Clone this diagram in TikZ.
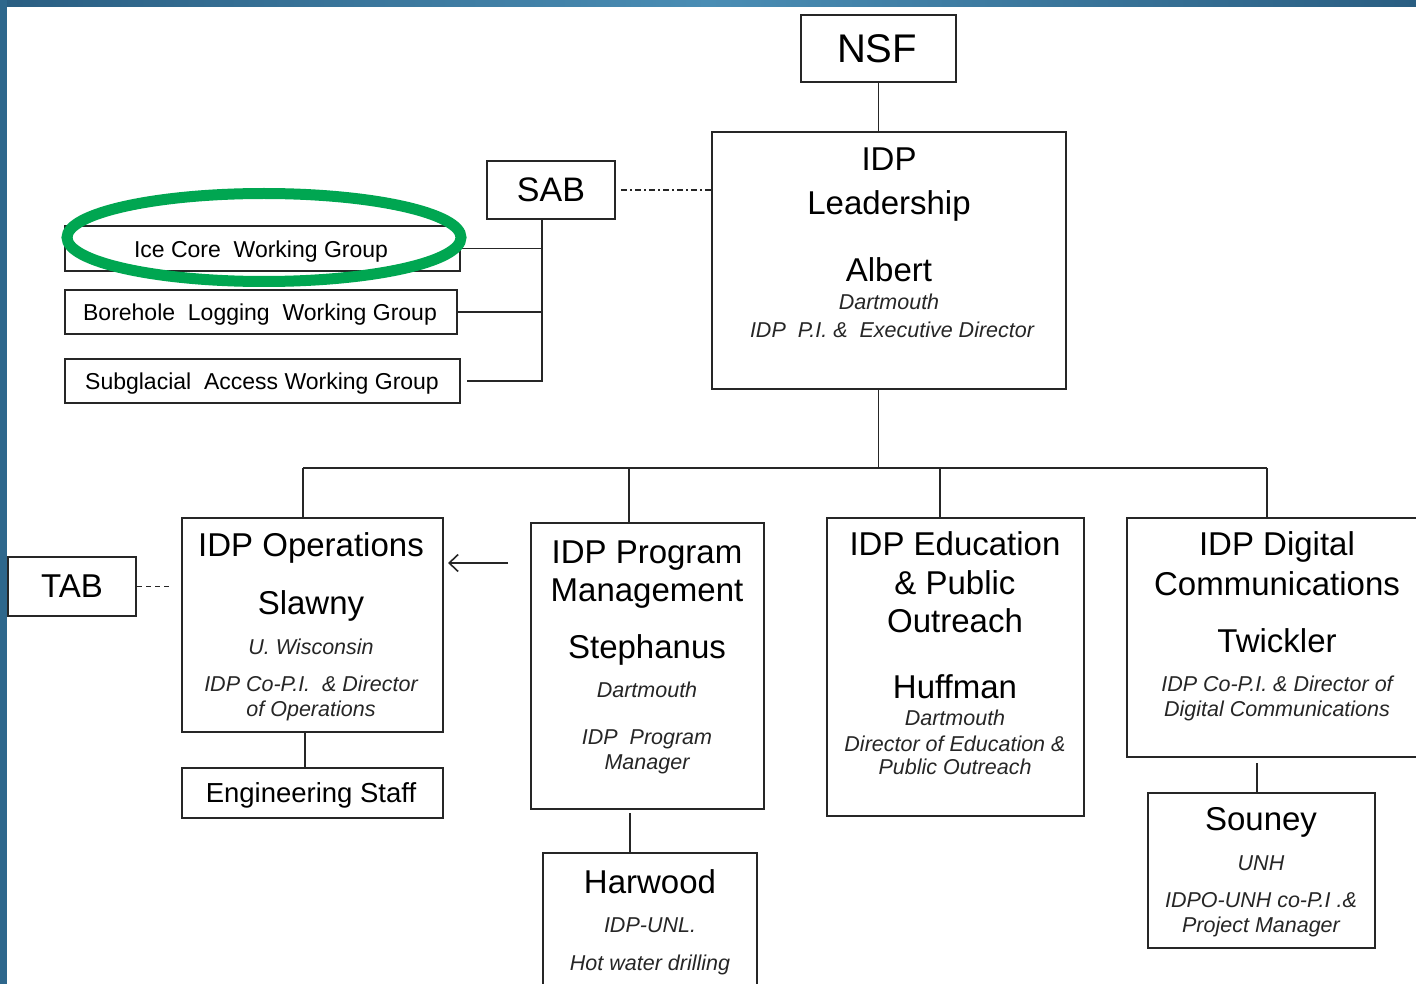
\documentclass[tikz,border=0pt]{standalone}
\usepackage{fontspec}
\setmainfont{Liberation Sans}
\usetikzlibrary{arrows.meta,calc}
\definecolor{lc}{HTML}{262626}
\definecolor{bdark}{HTML}{2A5E82}
\definecolor{blight}{HTML}{4A8DB4}
\definecolor{bleft}{HTML}{2E678C}
\definecolor{gring}{HTML}{00A651}
\begin{document}
\begin{tikzpicture}[x=1pt,y=-1pt,
 box/.style={draw=lc, line width=2pt, inner sep=0pt},
 ln/.style={draw=lc, line width=1.8pt},
 txt/.style={inner sep=0pt, text depth=0pt, text=black},
 ttl/.style={txt, text height=23.6pt, font=\fontsize{33}{36}\selectfont},
 nm/.style={txt, text height=23.6pt, font=\fontsize{33}{36}\selectfont},
 itx/.style={txt, text height=15.4pt, font=\fontsize{21.5}{24}\selectfont\itshape, text=black!85},
 wg/.style={txt, text height=16.5pt, font=\fontsize{23}{26}\selectfont},
 dashdot/.style={ln, line width=1.4pt, dash pattern=on 6pt off 3pt on 2pt off 3pt},
 shortdash/.style={ln, line width=1.4pt, dash pattern=on 5pt off 4pt},
]
\useasboundingbox (0,0) rectangle (1416,984);
\fill[white] (0,0) rectangle (1416,984);
% border
\shade[left color=bdark, right color=bdark, middle color=blight] (0,0) rectangle (1416,7);
\fill[bleft] (0,0) rectangle (7,984);

% boxes
\node[box, minimum width=155, minimum height=67] (NSF) at (878.5,48.5) {};
\node[box, minimum width=354, minimum height=257] (Lead) at (889,260.5) {};
\node[box, minimum width=128, minimum height=58] (SAB) at (551,190) {};
\node[box, minimum width=395, minimum height=45] (Ice) at (262.5,248.5) {};
\node[box, minimum width=392, minimum height=44] (Bore) at (261,312) {};
\node[box, minimum width=395, minimum height=44] (Sub) at (262.5,381) {};
\node[box, minimum width=128, minimum height=59] (TAB) at (72,586.5) {};
\node[box, minimum width=261, minimum height=214] (Ops) at (312.5,625) {};
\node[box, minimum width=261, minimum height=50] (Eng) at (312.5,793) {};
\node[box, minimum width=233, minimum height=286] (PM) at (647.5,666) {};
\node[box, minimum width=214, minimum height=157] (Harw) at (650,931.5) {};
\node[box, minimum width=257, minimum height=298] (Edu) at (955.5,667) {};
\node[box, minimum width=313, minimum height=239] (Dig) at (1283.5,637.5) {};
\node[box, minimum width=227, minimum height=155] (Sou) at (1261.5,870.5) {};

% helper coordinates
\coordinate (busL) at (303,468);
\coordinate (busR) at (1267,468);
\coordinate (pmT) at (629,468);
\coordinate (eduT) at (940,468);
\coordinate (sabV) at (542,382);
\coordinate (opsB) at (305,732);
\coordinate (pmB) at (630,813);
\coordinate (digB) at (1257,763);
\coordinate (arS) at (508,563);

% connectors
\draw[ln] (NSF.south) -- (NSF.south |- Lead.north);
\draw[ln] (NSF.south |- Lead.south) -- (NSF.south |- busL);
\draw[ln] (busL) -- (busR);
\draw[ln] (busL) -- (busL |- Ops.north);
\draw[ln] (pmT) -- (pmT |- PM.north);
\draw[ln] (eduT) -- (eduT |- Edu.north);
\draw[ln] (busR) -- (busR |- Dig.north);
\draw[ln] (opsB) -- (opsB |- Eng.north);
\draw[ln] (pmB) -- (pmB |- Harw.north);
\draw[ln] (digB) -- (digB |- Sou.north);
\draw[ln] (sabV |- SAB.south) -- (sabV);
\draw[ln] (Ice.east) -- (Ice.east -| sabV);
\draw[ln] (Bore.east) -- (Bore.east -| sabV);
\draw[ln] ($(Sub.east)+(6,0)$) -- (Sub.east -| sabV);
\draw[dashdot] ($(SAB.east)+(5,0)$) -- (SAB.east -| Lead.west);
\draw[shortdash] (TAB.east) -- ($(TAB.east -| Ops.west)+(-9,0)$);
\draw[ln, -{Straight Barb[length=9pt,width=17pt,line width=1.6pt]}] (arS) -- ($(arS -| Ops.east)+(4,0)$);

% green ring
\draw[gring, line width=11pt] (264,237.5) ellipse [x radius=197, y radius=44];

% texts
\node[txt, text height=28.6pt, font=\fontsize{40}{44}\selectfont] (tNSF) at (877,48) {NSF};
\node[txt, text height=24.3pt, font=\fontsize{34}{38}\selectfont] (tSAB) at (551,189) {SAB};
\node[txt, text height=23.6pt, font=\fontsize{33}{36}\selectfont] (tTAB) at (72,586) {TAB};

\node[wg] (tIce) at (261,249) {Ice Core\ \ Working Group};
\node[wg] (tBore) at (260,312) {Borehole\ \ Logging\ \ Working Group};
\node[wg] (tSub) at (262,381) {Subglacial\ \ Access Working Group};

\node[ttl] (l1) at (889,159) {IDP};
\node[ttl] (l2) at (889,203) {Leadership};
\node[nm] (l3) at (889,270) {Albert};
\node[itx] (l4) at (889,302) {Dartmouth};
\node[itx] (l5) at (892,330) {IDP\ \ P.I. \&\ \ Executive Director};

\node[ttl] (o1) at (311,545) {IDP Operations};
\node[nm] (o2) at (311,603) {Slawny};
\node[itx] (o3) at (311,647) {U. Wisconsin};
\node[itx] (o4) at (311,684) {IDP Co-P.I.\ \ \& Director};
\node[itx] (o5) at (311,709) {of Operations};
\node[txt, text height=19.7pt, font=\fontsize{27.5}{30}\selectfont] (e1) at (311,793) {Engineering Staff};

\node[ttl] (p1) at (647,552) {IDP Program};
\node[ttl] (p2) at (647,590) {Management};
\node[nm] (p3) at (647,647) {Stephanus};
\node[itx] (p4) at (647,690) {Dartmouth};
\node[itx] (p5) at (647,737) {IDP\ \ Program};
\node[itx] (p6) at (647,762) {Manager};

\node[nm] (h1) at (650,882) {Harwood};
\node[itx] (h2) at (650,925) {IDP-UNL.};
\node[itx] (h3) at (650,963) {Hot water drilling};

\node[ttl] (d1) at (955,544) {IDP Education};
\node[ttl] (d2) at (955,583) {\& Public};
\node[ttl] (d3) at (955,621) {Outreach};
\node[nm] (d4) at (955,687) {Huffman};
\node[itx] (d5) at (955,718) {Dartmouth};
\node[itx] (d6) at (955,744) {Director of Education \&};
\node[itx] (d7) at (955,767) {Public Outreach};

\node[ttl] (g1) at (1277,544) {IDP Digital};
\node[ttl] (g2) at (1277,584) {Communications};
\node[nm] (g3) at (1277,641) {Twickler};
\node[itx] (g4) at (1277,684) {IDP Co-P.I. \& Director of};
\node[itx] (g5) at (1277,709) {Digital Communications};

\node[nm] (s1) at (1261,819) {Souney};
\node[itx] (s2) at (1261,863) {UNH};
\node[itx] (s3) at (1261,900) {IDPO-UNH co-P.I .\&};
\node[itx] (s4) at (1261,925) {Project Manager};
\end{tikzpicture}
\end{document}
